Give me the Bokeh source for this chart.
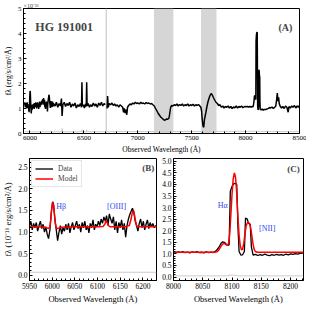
import numpy as np
from bokeh.plotting import figure
from bokeh.layouts import column, row
from bokeh.models import BoxAnnotation, Label, FixedTicker, Range1d, NumeralTickFormatter
from bokeh.embed import file_html
from bokeh.resources import INLINE

FONT = "Liberation Serif"

# ---------------- data (flux in 1e-16 erg/s/cm2/A) ----------------
# Panel B zoom (H-beta / [OIII]) data
b_wave = [5950, 5953, 5956, 5959, 5962, 5965, 5968, 5971, 5974, 5977, 5980, 5983, 5986, 5989,
          5992, 5995, 5998, 6001, 6003, 6006, 6009, 6012, 6015, 6018, 6021, 6024, 6027, 6030,
          6033, 6036, 6039, 6042, 6045, 6048, 6051, 6054, 6057, 6060, 6063, 6066, 6069, 6072,
          6075, 6078, 6081, 6084, 6087, 6090, 6093, 6096, 6099, 6102, 6105, 6108, 6111, 6114,
          6117, 6120, 6123, 6126, 6129, 6132, 6135, 6138, 6141, 6144, 6147, 6150, 6153, 6156,
          6159, 6162, 6165, 6168, 6171, 6174, 6177, 6180, 6183, 6186, 6189, 6192, 6195, 6198,
          6201, 6204, 6207, 6210, 6213, 6216, 6219, 6222, 6225, 6228, 6230]
b_flux = [1.15, 1.25, 1.05, 1.20, 1.10, 1.22, 1.02, 1.15, 1.25, 1.08, 1.18, 1.00, 1.12, 0.95,
          0.85, 1.05, 1.45, 1.70, 1.65, 1.30, 1.05, 0.80, 1.00, 1.15, 0.95, 1.10, 1.02, 1.18,
          1.05, 1.20, 0.98, 1.12, 1.22, 1.05, 1.15, 1.25, 1.08, 1.18, 1.00, 1.22, 1.10, 1.25,
          1.05, 1.15, 0.98, 1.20, 1.10, 1.28, 1.05, 1.18, 1.12, 1.25, 1.15, 1.30, 1.20, 1.35,
          1.25, 1.38, 1.15, 1.42, 1.30, 1.20, 1.35, 1.05, 1.25, 0.98, 1.22, 1.10, 1.28, 1.05,
          1.20, 0.88, 1.15, 1.30, 1.40, 1.48, 1.55, 1.45, 1.25, 1.15, 1.02, 1.20, 1.30, 1.10,
          1.25, 1.05, 1.18, 1.28, 1.08, 1.22, 1.12, 1.20, 1.10, 1.15, 1.12]
b_model_wave = [5950, 5970, 5985, 5992, 5995, 5997, 5999, 6001, 6003, 6005, 6007, 6009, 6012,
                6020, 6050, 6100, 6112, 6116, 6119, 6122, 6125, 6128, 6160, 6170, 6174, 6177,
                6180, 6183, 6186, 6190, 6230]
b_model_flux = [1.13, 1.12, 1.11, 1.08, 1.12, 1.30, 1.55, 1.68, 1.62, 1.40, 1.20, 1.10, 1.08,
                1.11, 1.12, 1.12, 1.13, 1.18, 1.27, 1.20, 1.14, 1.12, 1.12, 1.15, 1.30, 1.47,
                1.49, 1.30, 1.15, 1.12, 1.12]
b_err_wave = [5950, 6230]
b_err_flux = [0.07, 0.07]

# Panel C zoom (H-alpha / [NII]) data
c_wave = [8000, 8004, 8008, 8012, 8016, 8020, 8024, 8028, 8032, 8036, 8040, 8044, 8048, 8052,
          8056, 8060, 8064, 8068, 8072, 8075, 8078, 8081, 8084, 8087, 8090, 8093, 8095, 8097,
          8100, 8103, 8106, 8108, 8110, 8112, 8115, 8118, 8121, 8123, 8126, 8128, 8131, 8133,
          8136, 8140, 8144, 8148, 8152, 8156, 8160, 8164, 8168, 8172, 8176, 8180, 8184, 8188,
          8192, 8196, 8200, 8204, 8208, 8212, 8216, 8220, 8222]
c_flux = [1.08, 1.05, 1.09, 1.06, 1.10, 1.05, 1.08, 1.04, 1.09, 1.06, 1.10, 1.05, 1.07, 1.04,
          1.09, 1.05, 1.08, 1.06, 1.12, 1.20, 1.30, 1.45, 1.52, 1.50, 1.42, 1.36, 1.40, 3.70,
          3.92, 4.03, 4.05, 4.00, 2.20, 1.10, 0.95, 0.96, 1.10, 2.55, 2.50, 2.32, 2.28, 1.30,
          0.95, 0.98, 0.93, 0.97, 0.94, 0.99, 0.95, 0.92, 0.97, 0.94, 0.98, 0.95, 0.97, 0.94,
          0.99, 0.96, 1.00, 0.98, 1.01, 0.99, 1.02, 1.03, 1.04]
c_model_wave = [8000, 8070, 8074, 8077, 8080, 8083, 8086, 8089, 8092, 8094, 8096, 8098, 8100,
                8102, 8104, 8106, 8108, 8110, 8112, 8114, 8116, 8118, 8120, 8122, 8124, 8126,
                8128, 8130, 8132, 8134, 8136, 8138, 8140, 8143, 8222]
c_model_flux = [1.07, 1.07, 1.09, 1.15, 1.28, 1.40, 1.45, 1.41, 1.37, 1.45, 1.85, 2.70, 3.60,
                4.25, 4.50, 4.30, 3.60, 2.60, 1.80, 1.35, 1.18, 1.20, 1.45, 1.85, 2.20, 2.33,
                2.36, 2.30, 2.10, 1.75, 1.40, 1.18, 1.10, 1.07, 1.07]
c_err_wave = [8000, 8090, 8100, 8110, 8222]
c_err_flux = [0.05, 0.05, 0.09, 0.05, 0.05]

# Panel A: remaining parts of the full spectrum (outside the B and C windows)
a_mid_wave = [6233, 6245, 6258, 6270, 6283, 6292, 6298, 6305, 6318, 6330, 6343, 6355, 6368,
              6380, 6393, 6405, 6418, 6430, 6443, 6455, 6468, 6478, 6482, 6486, 6495, 6505,
              6515, 6522, 6526, 6530, 6540, 6552, 6563, 6575, 6588, 6600, 6612, 6625, 6638,
              6650, 6663, 6675, 6688, 6698, 6706, 6715, 6720, 6726, 6735, 6748, 6760, 6773,
              6785, 6798, 6810, 6823, 6835, 6848, 6860, 6868, 6875, 6883, 6890, 6898, 6905,
              6915, 6928, 6940, 6953, 6965, 6978, 6990, 7003, 7015, 7028, 7040, 7053, 7065,
              7078, 7090, 7103, 7115, 7128, 7140, 7153, 7165, 7178, 7190, 7203, 7215, 7228,
              7240, 7253, 7265, 7278, 7290, 7298, 7305, 7315, 7325, 7338, 7350, 7363, 7375,
              7388, 7400, 7413, 7425, 7438, 7450, 7463, 7475, 7488, 7500, 7513, 7525, 7538,
              7550, 7563, 7575, 7585, 7592, 7598, 7605, 7612, 7618, 7625, 7632, 7640, 7650,
              7660, 7670, 7680, 7690, 7700, 7712, 7725, 7738, 7750, 7763, 7775, 7788, 7800,
              7813, 7825, 7838, 7850, 7863, 7875, 7888, 7900, 7913, 7925, 7938, 7950, 7963,
              7975, 7988]
a_mid_flux = [1.10, 1.25, 1.05, 1.20, 1.10, 1.40, 0.70, 1.15, 1.25, 1.08, 1.20, 1.12, 1.25,
              1.05, 1.18, 1.10, 1.22, 1.02, 1.15, 1.08, 1.20, 1.05, 2.05, 1.10, 1.15, 1.02,
              1.18, 1.08, 2.05, 1.10, 1.20, 1.05, 1.15, 1.08, 1.22, 1.10, 1.18, 1.05, 1.22,
              1.12, 1.25, 1.10, 1.20, 1.15, float("nan"), 1.00, 1.50, 1.05, 1.20, 1.15, 1.22, 1.12,
              1.18, 1.10, 1.15, 1.05, 1.15, 1.10, 1.05, 0.85, 1.00, 0.82, 0.95, 0.75, 1.05,
              1.12, 1.18, 1.15, 1.22, 1.18, 1.25, 1.20, 1.22, 1.18, 1.25, 1.20, 1.22, 1.18,
              1.24, 1.20, 1.22, 1.18, 1.20, 1.15, 1.10, 1.00, 0.90, 0.80, 0.72, 0.65, 0.60,
              0.55, 0.53, 0.58, 0.57, 0.62, 0.85, 1.05, 1.12, 1.10, 1.15, 1.12, 1.18, 1.10,
              1.16, 1.12, 1.18, 1.10, 1.15, 1.12, 1.18, 1.10, 1.15, 1.12, 1.17, 1.10, 1.15,
              1.12, 1.16, 1.10, 1.05, 0.90, 0.55, 0.30, 0.25, 0.55, 0.70, 0.85, 1.05, 1.25,
              1.40, 1.52, 1.60, 1.55, 1.45, 1.35, 1.25, 1.20, 1.12, 1.15, 1.05, 1.10, 1.02,
              1.08, 1.05, 1.10, 1.02, 1.08, 1.00, 1.06, 1.03, 1.10, 1.02, 1.08, 1.05, 1.10,
              1.03, 1.07]
a_red_wave = [8232, 8245, 8257, 8270, 8280, 8288, 8294, 8300, 8306, 8312, 8320, 8333, 8345,
              8358, 8370, 8383, 8395, 8402, 8415, 8428, 8440, 8453, 8465, 8478, 8490, 8500]
a_red_flux = [1.02, 1.06, 1.00, 1.05, 1.10, 1.35, 1.62, 1.30, 1.45, 1.20, 1.10, 1.02, 1.08,
              1.00, 1.10, 1.05, 0.85, 1.08, 1.02, 1.10, 1.05, 1.12, 1.02, 1.10, 1.05, 1.12]
a_err_wave = [5950, 6294, 6298, 6302, 6480, 6482, 6484, 6524, 6526, 6528, 8100, 8500]
a_err_flux = [0.07, 0.07, 0.20, 0.07, 0.07, 0.15, 0.07, 0.07, 0.15, 0.07, 0.09, 0.07]

telluric_bands = [(7150, 7330), (7587, 7730)]
masked_line = (6702, 6714)

a_wave = b_wave + a_mid_wave + c_wave + a_red_wave
a_flux = b_flux + a_mid_flux + c_flux + a_red_flux


def frange(start, stop, step):
    return [float(v) for v in np.arange(start, stop, step)]


# ---------------- styling helpers ----------------
def style(p, tick_size, label_size):
    p.outline_line_color = "black"
    p.outline_line_width = 1
    p.xgrid.visible = False
    p.ygrid.visible = False
    p.background_fill_color = "white"
    p.border_fill_color = "white"
    for ax in (p.xaxis[0], p.yaxis[0]):
        ax.major_label_text_font = FONT
        ax.major_label_text_font_size = tick_size
        ax.major_label_text_color = "black"
        ax.axis_label_text_font = FONT
        ax.axis_label_text_font_size = label_size
        ax.axis_label_text_font_style = "normal"
        ax.axis_label_text_color = "black"
        ax.major_tick_in = 3
        ax.major_tick_out = 0
        ax.minor_tick_in = 2
        ax.minor_tick_out = 0
        ax.major_label_standoff = 2
        ax.axis_label_standoff = 2
        ax.axis_line_color = "black"
        ax.major_tick_line_color = "black"
        ax.minor_tick_line_color = "black"


# ---------------- panel A ----------------
pa = figure(width=306, height=156, x_range=Range1d(5940, 8500), y_range=Range1d(0, 5),
            output_backend="svg", toolbar_location=None,
            title="×10⁻¹⁶",
            min_border_left=21, min_border_right=7, min_border_top=4, min_border_bottom=22)
pa.title.text_font = FONT
pa.title.text_font_size = "6px"
pa.title.text_font_style = "normal"
pa.title.align = "left"
pa.title.standoff = 0
pa.title.offset = 0
style(pa, "7px", "7.5px")
pa.xaxis.ticker = FixedTicker(ticks=[6000, 6500, 7000, 7500, 8000, 8500],
                              minor_ticks=frange(6000, 8501, 100))
pa.yaxis.ticker = FixedTicker(ticks=[0, 1, 2, 3, 4, 5],
                              minor_ticks=frange(0, 5.01, 0.2))
pa.xaxis.axis_label = "Observed Wavelength (Å)"
pa.yaxis.axis_label = "fλ (erg/s/cm²/Å)"
for l, r in telluric_bands:
    pa.add_layout(BoxAnnotation(left=l, right=r, fill_color="#d6d6d6", fill_alpha=1,
                                line_color=None, level="underlay"))
pa.add_layout(BoxAnnotation(left=masked_line[0], right=masked_line[1], fill_color="#d0d0d0",
                            fill_alpha=1, line_color=None, level="underlay"))
pa.line(a_err_wave, a_err_flux, color="#cccccc", line_width=1)
pa.line(np.array(a_wave, dtype=float), np.array(a_flux, dtype=float), color="black", line_width=1.5)
pa.add_layout(Label(x=6050, y=4.25, text="HG 191001", text_font=FONT, text_font_size="12px",
                    text_font_style="bold", text_baseline="middle"))
pa.add_layout(Label(x=8370, y=4.25, text="(A)", text_font=FONT, text_font_size="10px",
                    text_font_style="bold", text_baseline="middle", text_align="center"))

# ---------------- panel B ----------------
pb = figure(width=159, height=150, x_range=Range1d(5950, 6230), y_range=Range1d(-0.12, 2.7),
            output_backend="svg", toolbar_location=None,
            min_border_left=20, min_border_right=3, min_border_top=2, min_border_bottom=21)
style(pb, "7.5px", "8.5px")
pb.xaxis.ticker = FixedTicker(ticks=[5950, 6000, 6050, 6100, 6150, 6200],
                              minor_ticks=frange(5950, 6231, 10))
pb.yaxis.ticker = FixedTicker(ticks=[0.0, 0.5, 1.0, 1.5, 2.0, 2.5],
                              minor_ticks=frange(0, 2.61, 0.1))
pb.yaxis.formatter = NumeralTickFormatter(format="0.0")
pb.xaxis.axis_label = "Observed Wavelength (Å)"
pb.yaxis.axis_label = "fλ (10⁻¹⁶ erg/s/cm²/Å)"
pb.line(b_err_wave, b_err_flux, color="#cccccc", line_width=1)
pb.line(b_wave, b_flux, color="black", line_width=1.3, legend_label="Data")
pb.line(b_model_wave, b_model_flux, color="red", line_width=1.5, legend_label="Model")
pb.legend.location = "top_left"
pb.legend.label_text_font = FONT
pb.legend.label_text_font_size = "7.5px"
pb.legend.border_line_color = "#cccccc"
pb.legend.background_fill_alpha = 0.9
pb.legend.glyph_width = 18
pb.legend.glyph_height = 9
pb.legend.label_height = 9
pb.legend.label_standoff = 5
pb.legend.spacing = 1
pb.legend.padding = 3
pb.legend.margin = 2
pb.add_layout(Label(x=6020, y=1.58, text="Hβ", text_font=FONT, text_font_size="8px",
                    text_color="#3344ee", text_baseline="middle", text_align="center"))
pb.add_layout(Label(x=6142, y=1.58, text="[OIII]", text_font=FONT, text_font_size="8px",
                    text_color="#3344ee", text_baseline="middle", text_align="center"))
pb.add_layout(Label(x=6212, y=2.47, text="(B)", text_font=FONT, text_font_size="9px",
                    text_font_style="bold", text_baseline="middle", text_align="center"))

# ---------------- panel C ----------------
pc = figure(width=147, height=150, x_range=Range1d(8000, 8222), y_range=Range1d(-0.15, 5.12),
            output_backend="svg", toolbar_location=None,
            min_border_left=14, min_border_right=3, min_border_top=2, min_border_bottom=21)
style(pc, "7.5px", "8.5px")
pc.xaxis.ticker = FixedTicker(ticks=[8000, 8050, 8100, 8150, 8200],
                              minor_ticks=frange(8000, 8221, 10))
pc.yaxis.ticker = FixedTicker(ticks=frange(0, 5.01, 0.5),
                              minor_ticks=frange(0, 5.01, 0.1))
pc.yaxis.formatter = NumeralTickFormatter(format="0.0")
pc.xaxis.axis_label = "Observed Wavelength (Å)"
pc.line(c_err_wave, c_err_flux, color="#cccccc", line_width=1)
pc.line(c_wave, c_flux, color="black", line_width=1.3)
pc.line(c_model_wave, c_model_flux, color="red", line_width=1.5)
pc.add_layout(Label(x=8084, y=3.1, text="Hα", text_font=FONT, text_font_size="8px",
                    text_color="#3344ee", text_baseline="middle", text_align="center"))
pc.add_layout(Label(x=8160, y=2.1, text="[NII]", text_font=FONT, text_font_size="8px",
                    text_color="#3344ee", text_baseline="middle", text_align="center"))
pc.add_layout(Label(x=8205, y=4.65, text="(C)", text_font=FONT, text_font_size="9px",
                    text_font_style="bold", text_baseline="middle", text_align="center"))

layout = column(pa, row(pb, pc, spacing=0), spacing=0)
open("out.html", "w").write(file_html(layout, INLINE))
